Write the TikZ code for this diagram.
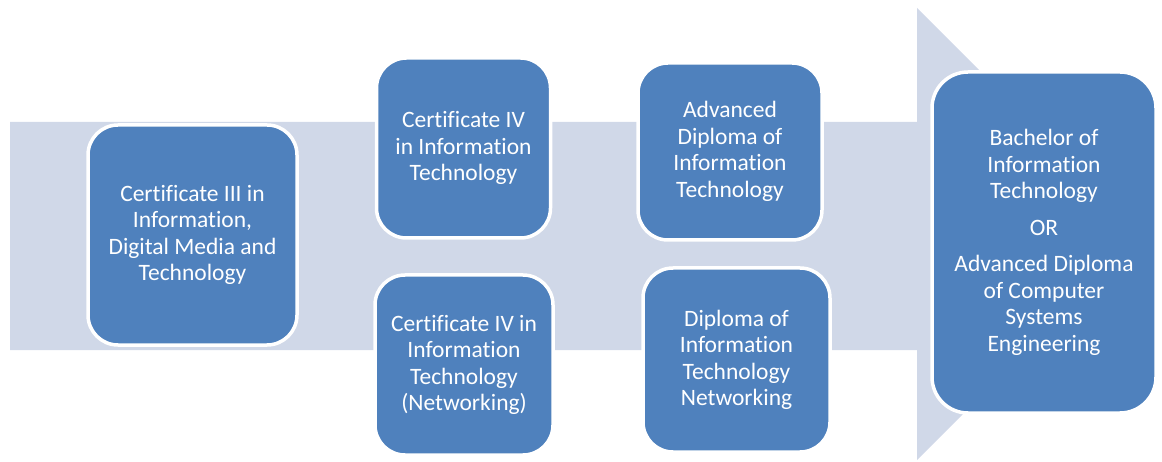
\documentclass[tikz,border=0pt]{standalone}
\usepackage{fontspec}
\setmainfont[Ligatures={NoCommon}]{Carlito}
\definecolor{boxblue}{HTML}{4F81BD}
\definecolor{arrowgrey}{HTML}{D0D8E8}
\begin{document}
\begin{tikzpicture}[x=1pt,y=-1pt,
  stagebox/.style={draw=white, line width=3.5pt, fill=boxblue, rounded corners=30pt,
    text=white, align=center, inner sep=0pt,
    font=\fontsize{23.5}{26.5}\selectfont}]
\useasboundingbox (0,0) rectangle (1162,462);
\fill[arrowgrey] (10,122) -- (917,122) -- (917,8) -- (1143,234) -- (917,460) -- (917,350) -- (10,350) -- cycle;
\node[stagebox, minimum width=209pt, minimum height=220pt] (c3) at (192.5,235) {Certificate III in\\Information,\\Digital Media and\\Technology};
\node[stagebox, minimum width=174pt, minimum height=180pt] (c4) at (463.5,148) {Certificate IV\\in Information\\Technology};
\node[stagebox, minimum width=178pt, minimum height=180pt] (c4n) at (464,365) {Certificate IV in\\Information\\Technology\\(Networking)};
\node[stagebox, minimum width=184pt, minimum height=177pt] (ad) at (730,151.5) {Advanced\\Diploma of\\Information\\Technology};
\node[stagebox, minimum width=187pt, minimum height=184pt] (dn) at (736.5,360) {Diploma of\\Information\\Technology\\Networking};
\node[stagebox, rounded corners=36pt, minimum width=224pt, minimum height=341pt] (ba) at (1044,242.5) {Bachelor of\\Information\\Technology\\[10pt]OR\\[10pt]Advanced Diploma\\of Computer\\Systems\\Engineering};
\end{tikzpicture}
\end{document}
